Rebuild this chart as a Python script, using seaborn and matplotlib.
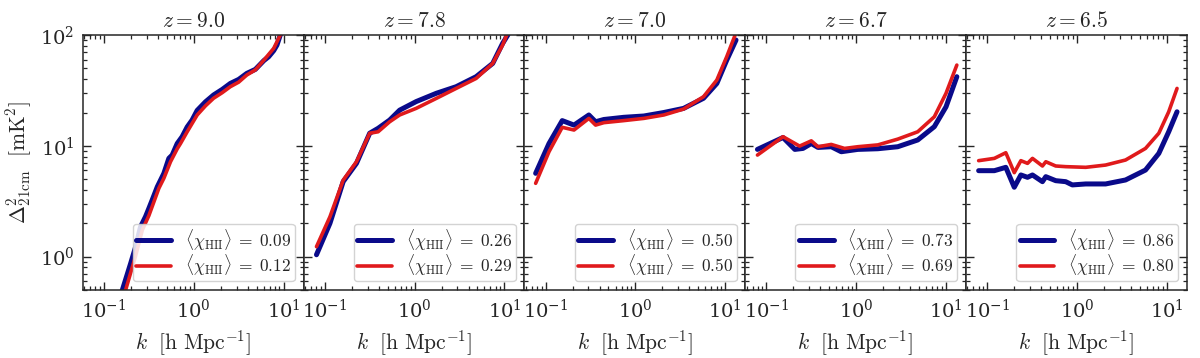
import numpy as np
import pandas as pd
import matplotlib
matplotlib.use("Agg")
import matplotlib.pyplot as plt
import seaborn as sns

# --- data (k in h/Mpc, Delta^2 in mK^2) ---
redshifts = ["9.0", "7.8", "7.0", "6.7", "6.5"]
xhii_blue = ["0.09", "0.26", "0.50", "0.73", "0.86"]
xhii_red = ["0.12", "0.29", "0.50", "0.69", "0.80"]

k1_blue = [0.080, 0.160, 0.198, 0.225, 0.255, 0.290, 0.316, 0.344, 0.392, 0.464, 0.527, 0.574, 0.653, 0.741,
           0.843, 0.957, 1.09, 1.35, 1.66, 2.07, 2.55, 3.16, 3.89, 4.84, 6.03, 6.81, 7.76, 8.43, 9.18, 10.0]
p1_blue = [0.072, 0.50, 0.87, 1.23, 1.86, 2.30, 2.73, 3.25, 4.27, 5.65, 7.71, 8.26, 10.5, 12.1,
           14.8, 17.1, 20.9, 25.0, 28.8, 32.3, 36.6, 39.8, 45.1, 49.0, 58.9, 63.7, 72.4, 81.2, 100, 126]
k1_red = [0.080, 0.174, 0.225, 0.267, 0.316, 0.408, 0.464, 0.550, 0.653, 0.711, 0.843, 1.09, 1.35, 1.66,
          2.07, 2.55, 3.16, 3.89, 4.84, 6.03, 7.76, 9.18, 10.0]
p1_red = [0.052, 0.50, 1.02, 1.74, 2.35, 4.14, 5.10, 7.19, 9.4, 10.5, 13.4, 19.0, 23.0, 26.9,
          30.2, 34.2, 37.6, 43.6, 48.5, 59.4, 75.9, 100, 120]

k2_blue = [0.0807, 0.114, 0.160, 0.225, 0.316, 0.392, 0.527, 0.681, 1.04, 1.74, 2.90, 4.84, 7.41, 9.55, 10.9, 12.0]
p2_blue = [1.04, 2.0, 4.75, 6.95, 13.0, 14.4, 17.1, 21.0, 25.1, 29.8, 34.2, 42.1, 55.5, 84.1, 100, 141]
k2_red = [0.0807, 0.114, 0.160, 0.225, 0.316, 0.392, 0.527, 0.681, 1.04, 1.74, 2.90, 4.84, 7.41, 9.55, 10.6, 12.0]
p2_red = [1.23, 2.29, 4.90, 7.19, 13.0, 13.4, 16.5, 19.0, 21.8, 26.8, 33.0, 40.6, 55.5, 81.3, 100, 158]

k3_blue = [0.0774, 0.109, 0.153, 0.207, 0.303, 0.360, 0.445, 0.741, 1.24, 2.07, 3.44, 5.74, 8.07, 10.4, 13.2]
p3_blue = [5.65, 10.5, 16.9, 15.4, 19.0, 16.5, 17.3, 18.1, 18.6, 20.0, 21.8, 26.9, 36.6, 59.4, 90.2]
k3_red = [0.0774, 0.109, 0.153, 0.207, 0.303, 0.360, 0.445, 0.741, 1.24, 2.07, 3.44, 5.74, 8.07, 10.4, 13.2]
p3_red = [4.59, 8.85, 14.7, 13.9, 17.7, 15.4, 16.2, 16.9, 17.7, 19.0, 21.5, 27.8, 39.3, 63.8, 105]

k4_blue = [0.0794, 0.153, 0.207, 0.255, 0.316, 0.375, 0.527, 0.681, 1.04, 1.74, 2.90, 4.84, 7.41, 10.0, 13.2]
p4_blue = [9.29, 11.9, 9.29, 9.48, 10.5, 9.68, 9.82, 8.85, 9.29, 9.42, 9.82, 11.3, 14.9, 22.5, 42.1]
k4_red = [0.0794, 0.153, 0.234, 0.316, 0.375, 0.527, 0.741, 1.04, 1.74, 2.90, 4.84, 7.41, 10.0, 13.2]
p4_red = [8.26, 12.1, 9.95, 11.1, 9.82, 10.3, 9.48, 9.82, 10.2, 11.5, 13.4, 18.3, 29.8, 53.6]

k5_blue = [0.0802, 0.120, 0.161, 0.20, 0.237, 0.281, 0.319, 0.412, 0.449, 0.579, 0.748, 0.887, 1.25, 2.08,
           3.47, 5.79, 8.15, 10.5, 13.0]
p5_blue = [5.97, 5.97, 6.40, 4.23, 5.46, 5.20, 5.46, 4.75, 5.27, 4.85, 4.75, 4.44, 4.53, 4.53,
           4.92, 6.05, 8.55, 13.4, 20.3]
k5_red = [0.0802, 0.120, 0.161, 0.20, 0.237, 0.281, 0.319, 0.412, 0.449, 0.579, 0.748, 1.25, 2.08,
          3.47, 5.79, 8.15, 10.5, 13.0]
p5_red = [7.35, 7.71, 8.67, 5.73, 7.35, 6.95, 7.71, 6.58, 7.19, 6.58, 6.49, 6.40, 6.71,
          7.45, 9.48, 13.0, 20.3, 33.0]

blue_k = [k1_blue, k2_blue, k3_blue, k4_blue, k5_blue]
blue_p = [p1_blue, p2_blue, p3_blue, p4_blue, p5_blue]
red_k = [k1_red, k2_red, k3_red, k4_red, k5_red]
red_p = [p1_red, p2_red, p3_red, p4_red, p5_red]

# style
sns.set_theme(style="ticks")
plt.rcParams.update({
    "font.family": "serif",
    "mathtext.fontset": "cm",
    "axes.unicode_minus": False,
    "axes.linewidth": 1.1,
    "xtick.direction": "in",
    "ytick.direction": "in",
    "xtick.top": True,
    "ytick.right": True,
    "xtick.major.size": 6,
    "ytick.major.size": 6,
    "xtick.minor.size": 3,
    "ytick.minor.size": 3,
    "xtick.major.width": 1.0,
    "ytick.major.width": 1.0,
    "xtick.minor.width": 0.9,
    "ytick.minor.width": 0.9,
    "xtick.minor.visible": True,
    "ytick.minor.visible": True,
    "xtick.labelsize": 14,
    "ytick.labelsize": 14,
})

BLUE = "#0a0a8a"
RED = "#e01a1c"

fig, axes = plt.subplots(1, 5, figsize=(12, 3.58), dpi=100, sharey=True)
fig.subplots_adjust(left=0.069, right=0.989, top=0.902, bottom=0.19, wspace=0)

for i, ax in enumerate(axes):
    df_b = pd.DataFrame({"k": blue_k[i], "P": blue_p[i]})
    df_r = pd.DataFrame({"k": red_k[i], "P": red_p[i]})
    sns.lineplot(data=df_b, x="k", y="P", ax=ax, color=BLUE, lw=3.6, sort=False,
                 estimator=None,
                 label=r"$\langle \chi_{\mathrm{HII}} \rangle \;=\; %s$" % xhii_blue[i])
    sns.lineplot(data=df_r, x="k", y="P", ax=ax, color=RED, lw=2.6, sort=False,
                 estimator=None,
                 label=r"$\langle \chi_{\mathrm{HII}} \rangle \;=\; %s$" % xhii_red[i])
    ax.set_xscale("log")
    ax.set_yscale("log")
    ax.set_xlim(0.058, 16.7)
    ax.set_ylim(0.5, 100)
    ax.set_title(r"$z = %s$" % redshifts[i], fontsize=15.5, pad=6)
    ax.set_xlabel(r"$k\ \ [\mathrm{h\ Mpc^{-1}}]$", fontsize=15.5, labelpad=5)
    ax.tick_params(which="both", top=True, right=True, direction="in", pad=6)
    if i == 0:
        ax.set_ylabel(r"$\Delta^2_{21\mathrm{cm}}\ \ [\mathrm{mK}^2]$", fontsize=15.5, labelpad=4)
    else:
        ax.set_ylabel("")
        ax.tick_params(axis="y", which="both", labelleft=False)
    leg = ax.legend(loc="lower right", fontsize=12.5, handlelength=2.0,
                    handletextpad=0.8, borderaxespad=0.5, borderpad=0.2,
                    labelspacing=0.0, fancybox=True,
                    framealpha=0.85, edgecolor="#cccccc")
    leg.get_frame().set_linewidth(1.0)

plt.savefig("out.png", dpi=100)
plt.close()
